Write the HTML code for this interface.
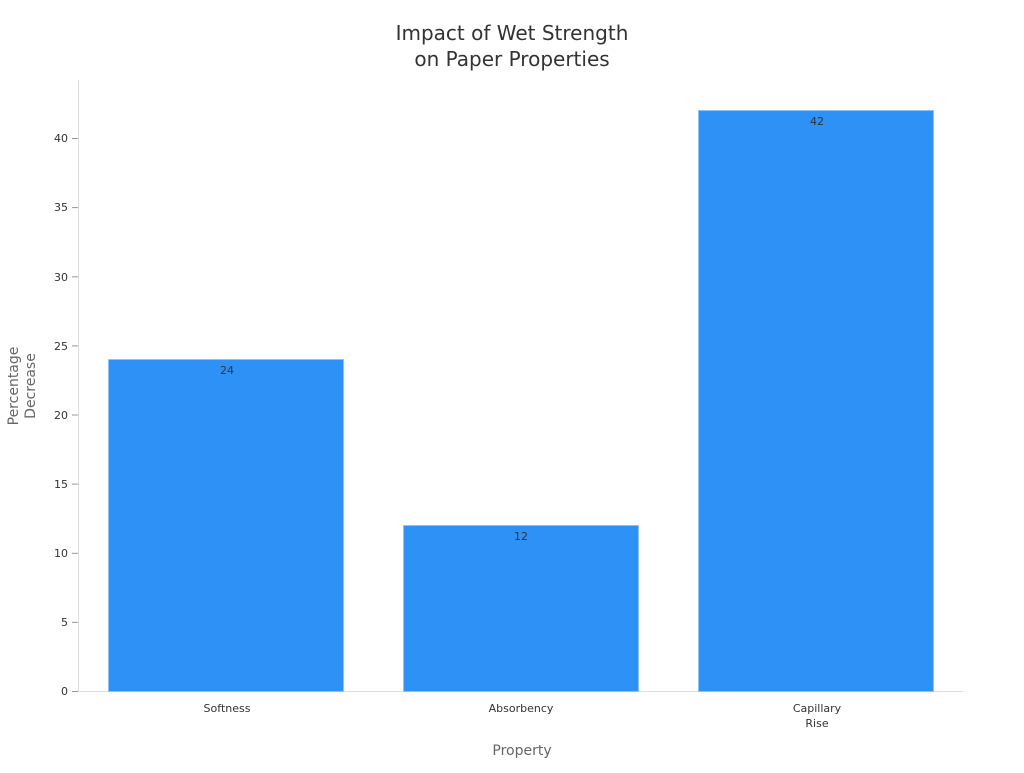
<!DOCTYPE html>
<html><head><meta charset="utf-8"><style>
html,body{margin:0;padding:0;background:#fff;}
svg text{font-family:"DejaVu Sans","Liberation Sans",sans-serif;}
</style></head><body>
<svg width="1024" height="768" viewBox="0 0 1024 768" xmlns="http://www.w3.org/2000/svg">
<rect width="1024" height="768" fill="#fff"/>
<text x="512" y="40" text-anchor="middle" font-size="20" fill="#333">Impact of Wet Strength</text>
<text x="512" y="66" text-anchor="middle" font-size="20" fill="#333">on Paper Properties</text>
<line x1="78.5" y1="80" x2="78.5" y2="692" stroke="#ddd"/>
<line x1="78" y1="691.5" x2="963" y2="691.5" stroke="#ddd"/>
<g font-size="11" fill="#333" text-anchor="end">
<text x="68" y="695">0</text><line x1="72" x2="78" y1="691.5" y2="691.5" stroke="#999"/>
<text x="68" y="626">5</text><line x1="72" x2="78" y1="622.4" y2="622.4" stroke="#999"/>
<text x="68" y="557">10</text><line x1="72" x2="78" y1="553.3" y2="553.3" stroke="#999"/>
<text x="68" y="488">15</text><line x1="72" x2="78" y1="484.1" y2="484.1" stroke="#999"/>
<text x="68" y="419">20</text><line x1="72" x2="78" y1="415" y2="415" stroke="#999"/>
<text x="68" y="350">25</text><line x1="72" x2="78" y1="345.9" y2="345.9" stroke="#999"/>
<text x="68" y="281">30</text><line x1="72" x2="78" y1="276.8" y2="276.8" stroke="#999"/>
<text x="68" y="211">35</text><line x1="72" x2="78" y1="207.6" y2="207.6" stroke="#999"/>
<text x="68" y="142">40</text><line x1="72" x2="78" y1="138.5" y2="138.5" stroke="#999"/>
</g>
<g fill="#2E91F5" stroke="#8EC3F7" stroke-width="1">
<rect x="108.5" y="359.5" width="235" height="332"/>
<rect x="403.5" y="525.5" width="235" height="166"/>
<rect x="698.5" y="110.5" width="235" height="581"/>
</g>
<g font-size="11" fill="#333" text-anchor="middle">
<text x="227" y="374">24</text>
<text x="521" y="540">12</text>
<text x="817" y="125">42</text>
<text x="227" y="712">Softness</text>
<text x="521" y="712">Absorbency</text>
<text x="817" y="712">Capillary</text>
<text x="817" y="727">Rise</text>
</g>
<text x="522" y="755" text-anchor="middle" font-size="14" fill="#666">Property</text>
<text transform="translate(18,386) rotate(-90)" text-anchor="middle" font-size="14" fill="#666">Percentage</text>
<text transform="translate(35,386) rotate(-90)" text-anchor="middle" font-size="14" fill="#666">Decrease</text>
</svg>
</body></html>
